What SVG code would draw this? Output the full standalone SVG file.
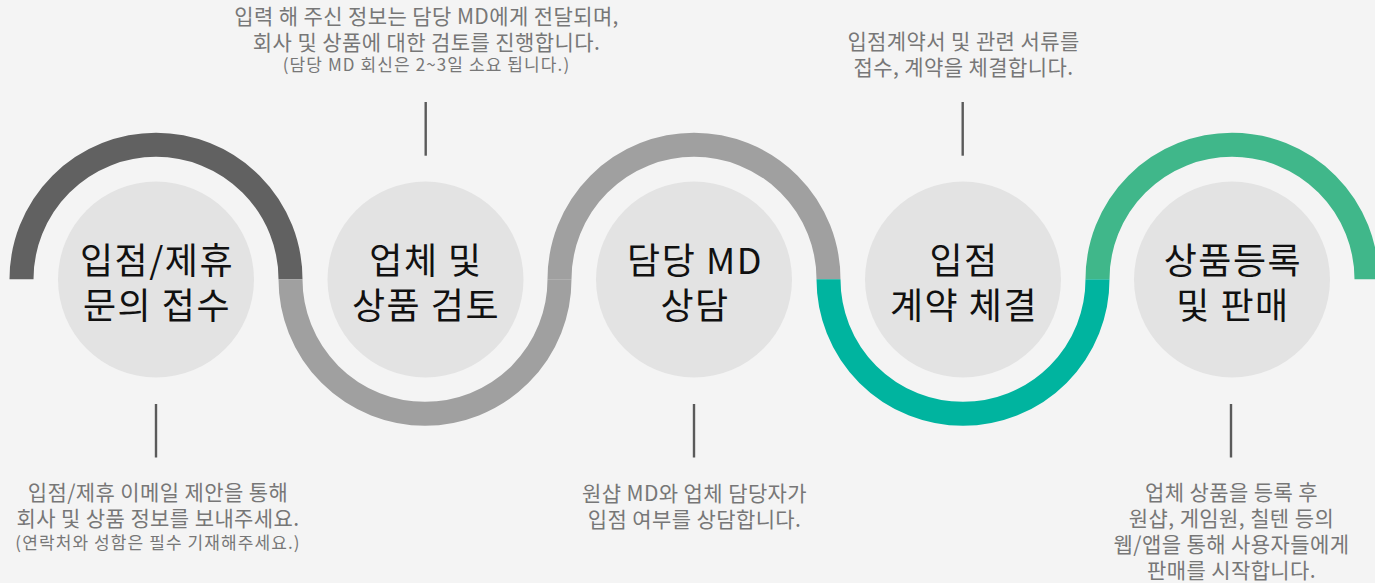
<svg xmlns="http://www.w3.org/2000/svg" width="1375" height="583" viewBox="0 0 1375 583">
<style>
.lbl{font-family:"Noto Sans CJK KR","Noto Sans",sans-serif;font-size:36px;letter-spacing:1.5px;fill:#111;text-anchor:middle}
.ann{font-family:"Noto Sans CJK KR","Noto Sans",sans-serif;font-size:21px;letter-spacing:0.4px;fill:#777;text-anchor:middle}
.sm{font-size:17px;letter-spacing:1.1px}
.disc{fill:#e3e3e3}
.arc{fill:none;stroke-width:24;stroke-linecap:butt}
.tick{stroke:#5a5a5a;stroke-width:2.4}
</style>
<rect x="0" y="0" width="1375" height="583" fill="#f4f4f4"/>
<g id="connectors">
<path class="arc" stroke="#616161" d="M21.5 279.3 A134.5 134.5 0 0 1 290.5 279.3"/>
<path class="arc" stroke="#a0a0a0" d="M290.5 279.3 A134.5 134.5 0 0 0 559.5 279.3"/>
<path class="arc" stroke="#a0a0a0" d="M559.5 279.3 A134.5 134.5 0 0 1 828.5 279.3"/>
<path class="arc" stroke="#00b49f" d="M828.5 279.3 A134.5 134.5 0 0 0 1097.5 279.3"/>
<path class="arc" stroke="#40b78a" d="M1097.5 279.3 A134.5 134.5 0 0 1 1366.5 279.3"/>
<line class="tick" x1="156" y1="404" x2="156" y2="457.5"/>
<line class="tick" x1="425.7" y1="102" x2="425.7" y2="155.7"/>
<line class="tick" x1="694" y1="404" x2="694" y2="457.5"/>
<line class="tick" x1="962.7" y1="102" x2="962.7" y2="155.7"/>
<line class="tick" x1="1231" y1="404" x2="1231" y2="457.5"/>
</g>
<g id="node1">
<circle class="disc" cx="156" cy="279.5" r="98"/>
<text class="lbl"><tspan x="157" y="274">입점/제휴</tspan><tspan x="157" y="319">문의 접수</tspan></text>
<text class="ann"><tspan x="158" y="500">입점/제휴 이메일 제안을 통해</tspan><tspan x="158" y="526">회사 및 상품 정보를 보내주세요.</tspan><tspan class="sm" x="158" y="549">(연락처와 성함은 필수 기재해주세요.)</tspan></text>
</g>
<g id="node2">
<circle class="disc" cx="425.5" cy="279.5" r="98"/>
<text class="lbl"><tspan x="426" y="274">업체 및</tspan><tspan x="426" y="319">상품 검토</tspan></text>
<text class="ann"><tspan x="426.5" y="24">입력 해 주신 정보는 담당 MD에게 전달되며,</tspan><tspan x="426.5" y="50">회사 및 상품에 대한 검토를 진행합니다.</tspan><tspan class="sm" x="426.5" y="71">(담당 MD 회신은 2~3일 소요 됩니다.)</tspan></text>
</g>
<g id="node3">
<circle class="disc" cx="694" cy="279.5" r="98"/>
<text class="lbl"><tspan x="695" y="274">담당 MD</tspan><tspan x="695" y="319">상담</tspan></text>
<text class="ann"><tspan x="694.5" y="501">원샵 MD와 업체 담당자가</tspan><tspan x="694.5" y="527">입점 여부를 상담합니다.</tspan></text>
</g>
<g id="node4">
<circle class="disc" cx="963" cy="279.5" r="98"/>
<text class="lbl"><tspan x="964" y="274">입점</tspan><tspan x="964" y="319">계약 체결</tspan></text>
<text class="ann"><tspan x="963.5" y="49">입점계약서 및 관련 서류를</tspan><tspan x="963.5" y="75">접수, 계약을 체결합니다.</tspan></text>
</g>
<g id="node5">
<circle class="disc" cx="1232" cy="279.5" r="98"/>
<text class="lbl"><tspan x="1233" y="274">상품등록</tspan><tspan x="1233" y="319">및 판매</tspan></text>
<text class="ann"><tspan x="1231.5" y="500">업체 상품을 등록 후</tspan><tspan x="1231.5" y="526">원샵, 게임원, 칠텐 등의</tspan><tspan x="1231.5" y="552">웹/앱을 통해 사용자들에게</tspan><tspan x="1231.5" y="578">판매를 시작합니다.</tspan></text>
</g>
</svg>
